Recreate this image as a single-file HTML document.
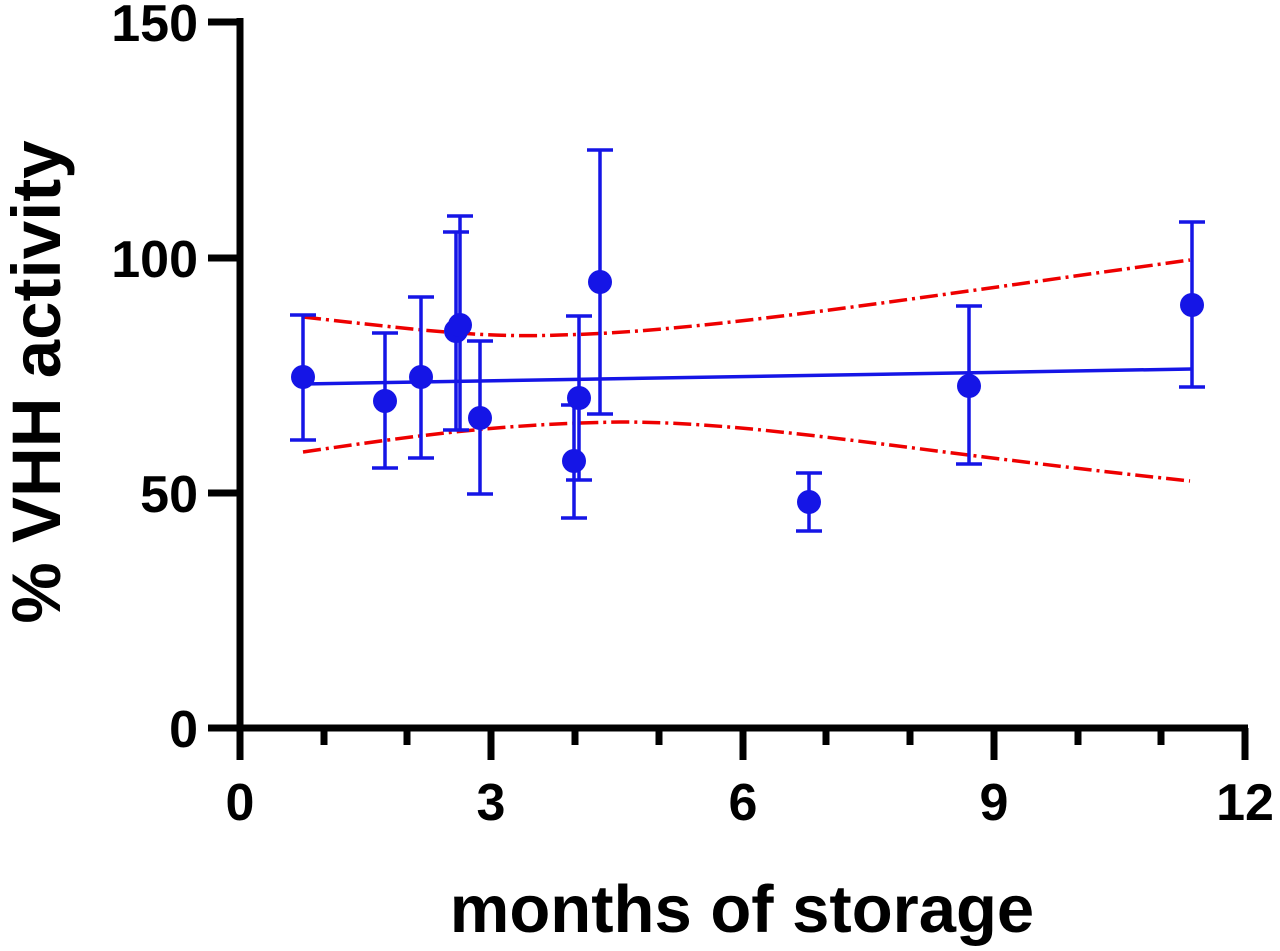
<!DOCTYPE html>
<html><head><meta charset="utf-8"><style>
body{margin:0;background:#fff}
svg{display:block}
text{font-family:"Liberation Sans",Arial,sans-serif;font-weight:bold;fill:#000}
</style></head><body>
<svg width="1280" height="951" viewBox="0 0 1280 951">
<g stroke="#000" stroke-width="7" fill="none">
<line x1="240" y1="18" x2="240" y2="731"/>
<line x1="237" y1="728" x2="1248" y2="728"/>
<line x1="208" y1="22" x2="240" y2="22"/>
<line x1="208" y1="258" x2="240" y2="258"/>
<line x1="208" y1="493" x2="240" y2="493"/>
<line x1="208" y1="728" x2="240" y2="728"/>
<line x1="240" y1="728" x2="240" y2="760"/>
<line x1="491" y1="728" x2="491" y2="760"/>
<line x1="743" y1="728" x2="743" y2="760"/>
<line x1="994" y1="728" x2="994" y2="760"/>
<line x1="1245" y1="728" x2="1245" y2="760"/>
<line x1="324" y1="728" x2="324" y2="745"/>
<line x1="407" y1="728" x2="407" y2="745"/>
<line x1="575" y1="728" x2="575" y2="745"/>
<line x1="659" y1="728" x2="659" y2="745"/>
<line x1="826" y1="728" x2="826" y2="745"/>
<line x1="910" y1="728" x2="910" y2="745"/>
<line x1="1078" y1="728" x2="1078" y2="745"/>
<line x1="1161" y1="728" x2="1161" y2="745"/>
</g>
<g font-size="52" text-anchor="end">
<text x="198" y="41">150</text>
<text x="198" y="277">100</text>
<text x="198" y="512">50</text>
<text x="198" y="747">0</text>
</g>
<g font-size="52" text-anchor="middle">
<text x="240" y="820">0</text>
<text x="491" y="820">3</text>
<text x="743" y="820">6</text>
<text x="994" y="820">9</text>
<text x="1245" y="820">12</text>
</g>
<text x="742" y="932" font-size="67" text-anchor="middle">months of storage</text>
<text transform="translate(60,382) rotate(-90)" font-size="69" text-anchor="middle">% VHH activity</text>
<g stroke="#e00" stroke-width="3.5" fill="none" stroke-dasharray="18,5,3,5">
<path d="M303,317 C420,330 480,338 560,335 C700,332 900,300 1190,260"/>
<path d="M303,452 C420,435 500,424 620,422 C760,422 900,450 1190,481"/>
</g>
<line x1="303" y1="384" x2="1192" y2="369" stroke="#1515e6" stroke-width="3.5"/>
<g stroke="#1515e6" stroke-width="3.5" fill="none">
<path d="M303,315V440M290,315H316M290,440H316"/>
<path d="M385,333V468M372,333H398M372,468H398"/>
<path d="M421,297V458M408,297H434M408,458H434"/>
<path d="M456,232V430M443,232H469M443,430H469"/>
<path d="M460,216V430M447,216H473"/>
<path d="M480,341V494M467,341H493M467,494H493"/>
<path d="M574,405V518M561,405H587M561,518H587"/>
<path d="M579,316V480M566,316H592M566,480H592"/>
<path d="M600,150V414M587,150H613M587,414H613"/>
<path d="M809,473V531M796,473H822M796,531H822"/>
<path d="M969,306V464M956,306H982M956,464H982"/>
<path d="M1192,222V387M1179,222H1205M1179,387H1205"/>
</g>
<g fill="#1515e6">
<circle cx="303" cy="377" r="12"/>
<circle cx="385" cy="401" r="12"/>
<circle cx="421" cy="377" r="12"/>
<circle cx="456" cy="331" r="12"/>
<circle cx="460" cy="325" r="12"/>
<circle cx="480" cy="418" r="12"/>
<circle cx="574" cy="461" r="12"/>
<circle cx="579" cy="398" r="12"/>
<circle cx="600" cy="282" r="12"/>
<circle cx="809" cy="502" r="12"/>
<circle cx="969" cy="386" r="12"/>
<circle cx="1192" cy="305" r="12"/>
</g>
</svg>
</body></html>
